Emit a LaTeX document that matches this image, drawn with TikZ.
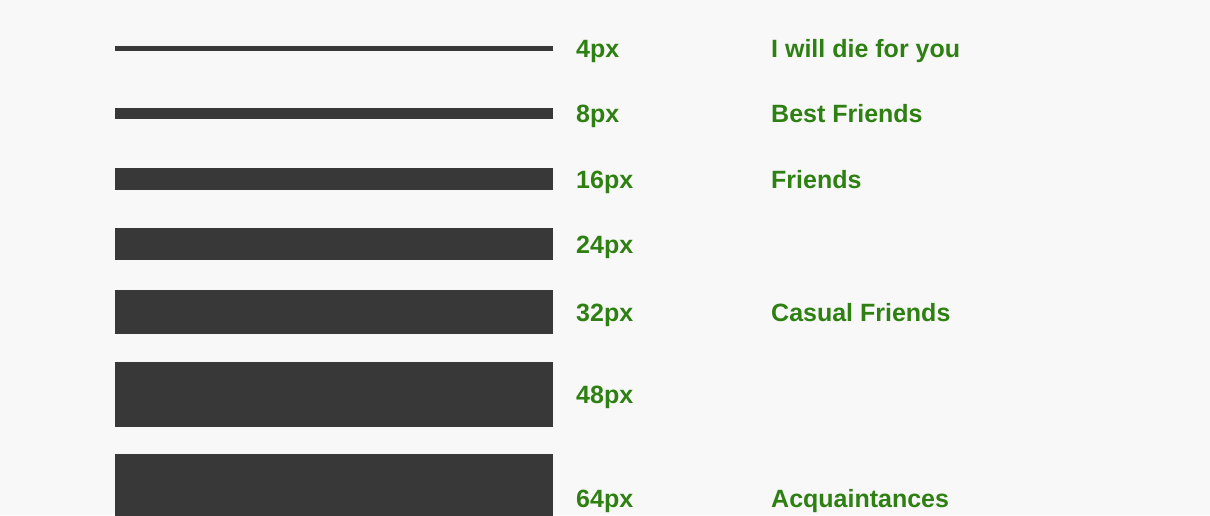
\documentclass[tikz,border=0pt]{standalone}
\usepackage{fontspec}
\setmainfont{Liberation Sans}
\definecolor{bg}{HTML}{F8F8F8}
\definecolor{bar}{HTML}{383838}
\definecolor{lbl}{RGB}{46,128,18}
\begin{document}
\begin{tikzpicture}[x=1pt,y=-1pt,
  lab/.style={anchor=base west,inner sep=0pt,text=lbl,font=\fontsize{25}{28}\selectfont\bfseries},
  barstyle/.style={fill=bar,draw=none}]
\clip (0,0) rectangle (1210,515);
\fill[bg] (0,0) rectangle (1210,515);
% bars
\fill[barstyle] (115,45.5) rectangle (553,50.5);
\fill[barstyle] (115,108) rectangle (553,119);
\fill[barstyle] (115,168) rectangle (553,190);
\fill[barstyle] (115,228) rectangle (553,260);
\fill[barstyle] (115,290) rectangle (553,334);
\fill[barstyle] (115,362) rectangle (553,427);
\fill[barstyle] (115,454) rectangle (553,541);
% size labels
\node[lab] (s4)  at (576,57) {4px};
\node[lab] (s8)  at (576,122.5) {8px};
\node[lab] (s16) at (576,188) {16px};
\node[lab] (s24) at (576,253) {24px};
\node[lab] (s32) at (576,321.5) {32px};
\node[lab] (s48) at (576,403.5) {48px};
\node[lab] (s64) at (576,507) {64px};
% relationship labels
\node[lab] (r1) at (771,57) {I will die for you};
\node[lab] (r2) at (771,122.5) {Best Friends};
\node[lab] (r3) at (771,188) {Friends};
\node[lab] (r4) at (771,321.5) {Casual Friends};
\node[lab] (r5) at (771,507) {Acquaintances};
\end{tikzpicture}
\end{document}
